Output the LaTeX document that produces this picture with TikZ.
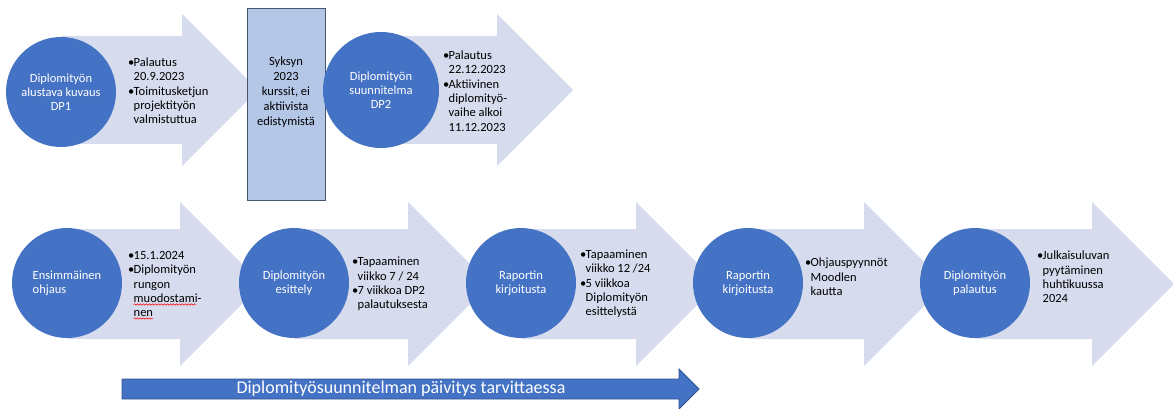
\documentclass[tikz,border=0pt]{standalone}
\usepackage{fontspec}
\setmainfont{Carlito}
\usetikzlibrary{decorations.pathmorphing}

\definecolor{accent}{RGB}{68,114,196}
\definecolor{bandfill}{RGB}{214,220,238}
\definecolor{pausefill}{RGB}{180,199,231}
\definecolor{pauseline}{RGB}{72,86,110}
\definecolor{accentline}{RGB}{47,82,143}

% bullet and hanging indent for the note lists
\newcommand\bi{\makebox[5.5pt][l]{\textbullet}}
\newcommand\ii{\hspace*{5.5pt}}

% light stage arrow: tail x, head start x, centre y, body half-height, head half-height
\newcommand\stagearrow[5]{%
  \fill[bandfill] (#1,{#3-#4}) -- (#2,{#3-#4}) -- (#2,{#3-#5}) -- ({#2+#5},#3)
    -- (#2,{#3+#5}) -- (#2,{#3+#4}) -- (#1,{#3+#4}) -- cycle;}

\tikzset{
  milestone/.style={circle, fill=accent, text=white, minimum size=#1,
    inner sep=0pt, align=center, font=\fontsize{12.5}{14}\selectfont},
  notes/.style={anchor=west, inner sep=0pt, align=left, text=black,
    font=\fontsize{12.5}{14.3}\selectfont},
  spell/.style={red, line width=0.5pt, decorate,
    decoration={snake, amplitude=0.7pt, segment length=3pt}},
}

\begin{document}
\begin{tikzpicture}[x=1pt, y=-1pt]
\useasboundingbox (0,0) rectangle (1173,409);

% ---------- first row ----------
\stagearrow{61}{182}{90}{54}{76}
\stagearrow{381}{497}{90}{54}{76}

\node[draw=pauseline, line width=0.8pt, fill=pausefill, minimum width=78,
  minimum height=192, inner sep=0pt] (pause) at (286,104) {};
\node[align=center, inner sep=0pt, font=\fontsize{12.5}{15}\selectfont]
  (pausetext) at (286,92) {Syksyn\\2023\\kurssit, ei\\aktiivista\\edistymistä};

\node[milestone=110] (dp1) at (61,92) {Diplomityön\\alustava kuvaus\\DP1};
\node[milestone=116] (dp2) at (381,90) {Diplomityön\\suunnitelma\\DP2};

\node[notes] (n1) at (128,91) {\bi Palautus\\\ii 20.9.2023\\\bi Toimitusketjun\\\ii projektityön\\\ii valmistuttua};
\node[notes] (n2) at (443,91) {\bi Palautus\\\ii 22.12.2023\\\bi Aktiivinen\\\ii diplomityö-\\\ii vaihe alkoi\\\ii 11.12.2023};

% ---------- second row ----------
\foreach \k in {0,...,4}{
  \stagearrow{67+227*\k}{180+228*\k}{284}{55}{82}
}

\node[milestone=110, align=left] (s1) at (67,283) {Ensimmäinen\\ohjaus};
\node[milestone=110] (s2) at (294,283) {Diplomityön\\esittely};
\node[milestone=110] (s3) at (521,283) {Raportin\\kirjoitusta};
\node[milestone=110] (s4) at (748,283) {Raportin\\kirjoitusta};
\node[milestone=110] (s5) at (975,283) {Diplomityön\\palautus};

\node[notes] (m1) at (128,284) {\bi 15.1.2024\\\bi Diplomityön\\\ii rungon\\\ii muodostami-\\\ii nen};
\node[notes] (m2) at (352,284) {\bi Tapaaminen\\\ii viikko 7 / 24\\\bi 7 viikkoa DP2\\\ii palautuksesta};
\node[notes] (m3) at (580,284) {\bi Tapaaminen\\\ii viikko 12 /24\\\bi 5 viikkoa\\\ii Diplomityön\\\ii esittelystä};
\node[notes] (m4) at (805,277) {\bi Ohjauspyynnöt\\\ii Moodlen\\\ii kautta};
\node[notes] (m5) at (1037,277) {\bi Julkaisuluvan\\\ii pyytäminen\\\ii huhtikuussa\\\ii 2024};

% spelling marks under the hyphenated word
\draw[spell] (133.5,304.5) -- (196,304.5);
\draw[spell] (133.5,318.5) -- (153,318.5);

% ---------- plan update arrow ----------
\draw[fill=accent, draw=accentline, line width=0.8pt]
  (122,379) -- (679,379) -- (679,369) -- (699,389) -- (679,409) -- (679,399) -- (122,399) -- cycle;
\node[text=white, inner sep=0pt, font=\fontsize{18}{20}\selectfont] (update) at (401,389)
  {Diplomityösuunnitelman päivitys tarvittaessa};
\end{tikzpicture}
\end{document}
